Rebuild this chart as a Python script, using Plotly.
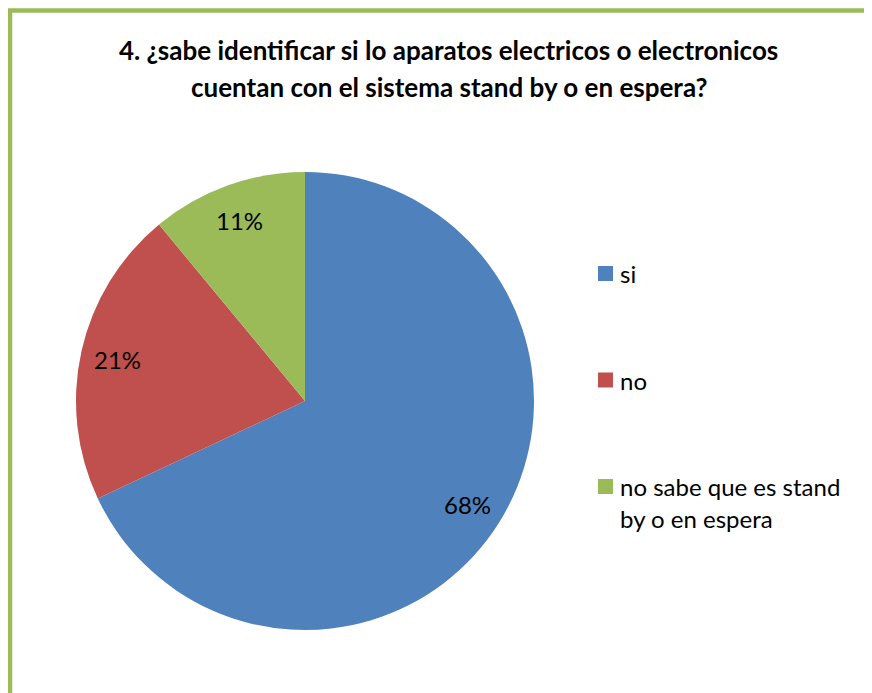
import math
import plotly.graph_objects as go

# ---- data ----
categories = ["si", "no", "no sabe que es stand by o en espera"]
legend_lines = [["si"], ["no"], ["no sabe que es stand", "by o en espera"]]
values = [68, 21, 11]
colors = ["#4F81BD", "#C0504D", "#9BBB59"]
title_lines = [
    "4. ¿sabe identificar si lo aparatos electricos o electronicos",
    "cuentan con el sistema stand by o en espera?",
]

# page body has an 8px margin; figure coordinates are offset by it
OFF = 8
W, H = 864, 685
FONT = "Lato"

# pie geometry (page pixels -> figure pixels)
cx, cy, R = 305 - OFF, 401 - OFF, 229

fig = go.Figure()
fig.add_trace(go.Pie(
    labels=categories,
    values=values,
    marker=dict(colors=colors, line=dict(color="white", width=0)),
    sort=False,
    direction="clockwise",
    rotation=0,
    textinfo="none",
    showlegend=False,
    domain=dict(x=[(cx - R) / W, (cx + R) / W], y=[(H - cy - R) / H, (H - cy + R) / H]),
))

annotations = []
# percentage labels placed from cumulative data angles
total = sum(values)
cum = 0
for v in values:
    theta = 2 * math.pi * (cum + v / 2) / total
    cum += v
    px = cx + 0.84 * R * math.sin(theta)
    py = cy - 0.84 * R * math.cos(theta)
    annotations.append(dict(
        x=px / W, y=1 - py / H, xref="paper", yref="paper",
        text=f"{round(100 * v / total)}%", showarrow=False,
        font=dict(family=FONT, size=24, color="black"),
        xanchor="center", yanchor="middle",
    ))

# title lines
for i, line in enumerate(title_lines):
    annotations.append(dict(
        x=(449 - OFF) / W, y=1 - (50 - OFF + 37 * i) / H, xref="paper", yref="paper",
        text=f"<b>{line}</b>", showarrow=False,
        font=dict(family=FONT, size=26, color="black"),
        xanchor="center", yanchor="middle",
    ))

# manual legend
shapes = []
leg_y0 = 273.5 - OFF
leg_gap = 106.5
for i, (lines, col) in enumerate(zip(legend_lines, colors)):
    yc = leg_y0 + leg_gap * i
    shapes.append(dict(
        type="rect", xref="paper", yref="paper",
        x0=(598 - OFF) / W, x1=(613 - OFF) / W, y0=1 - (yc + 7.5) / H, y1=1 - (yc - 7.5) / H,
        fillcolor=col, line=dict(width=0),
    ))
    for j, ln in enumerate(lines):
        annotations.append(dict(
            x=(618 - OFF) / W, y=1 - (yc + 32 * j) / H, xref="paper", yref="paper",
            text=ln, showarrow=False,
            font=dict(family=FONT, size=24, color="black"),
            xanchor="left", yanchor="middle",
        ))

# chart-area border (green, only top and left visible)
shapes.append(dict(
    type="rect", xref="paper", yref="paper",
    x0=(10 - OFF) / W, x1=1.2, y0=-0.2, y1=1 - (10.5 - OFF) / H,
    line=dict(color="#9BBB59", width=4.5), fillcolor="rgba(0,0,0,0)",
))

fig.update_layout(
    width=W, height=H,
    margin=dict(l=0, r=0, t=0, b=0),
    paper_bgcolor="white",
    plot_bgcolor="white",
    annotations=annotations,
    shapes=shapes,
    font=dict(family=FONT),
)

fig.write_html("out.html")
